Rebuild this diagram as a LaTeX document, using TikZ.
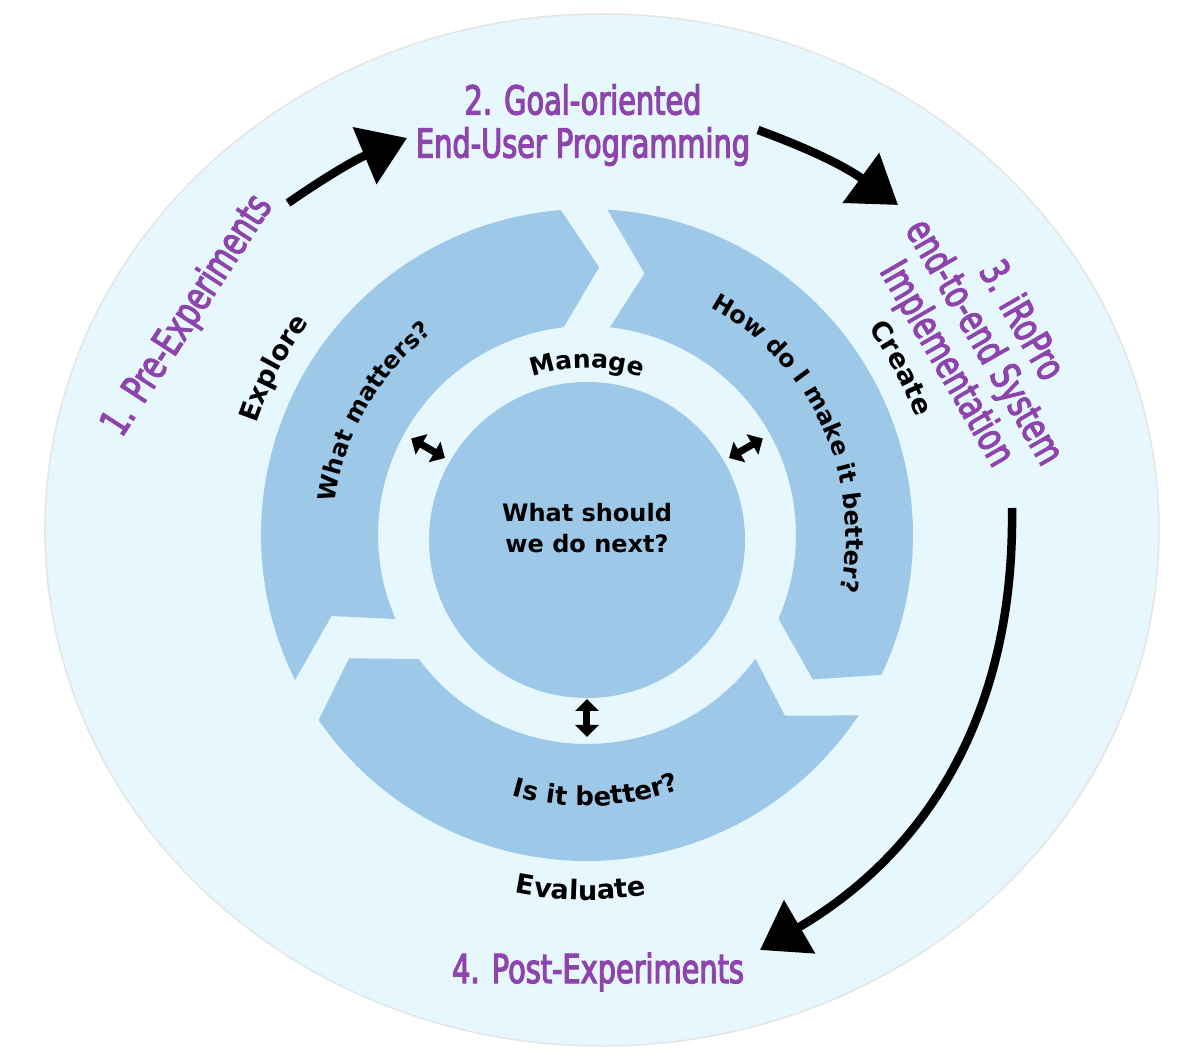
\documentclass[tikz,border=0pt]{standalone}
\usepackage{fontspec}
\usepackage{xcolor}
\usepackage{tikz}
\usetikzlibrary{arrows.meta,decorations.text}
\setmainfont{DejaVu Sans}
\newfontfamily\handfont[FakeStretch=0.72, FakeBold=3]{DejaVu Sans}
\definecolor{ringblue}{HTML}{9DC8E8}
\definecolor{paleblue}{HTML}{E6F7FE}
\definecolor{stagepurple}{HTML}{8E44AD}
\newcommand{\lblfont}{\bfseries\fontsize{24}{31}\selectfont}

\begin{document}
\begin{tikzpicture}[x=1pt, y=1pt,
    segment/.style={fill=ringblue},
    stage/.style={text=stagepurple, font=\handfont\fontsize{40}{43}\selectfont, align=center, inner sep=0pt},
    lbl/.style={font=\lblfont, align=center, inner sep=0pt},
    curved/.style 2 args={decorate, decoration={text along path, text align=center, text={|\bfseries\fontsize{#1}{#1}\selectfont|#2}}},
    sketch/.style={line width=8.5pt, -{Triangle[length=46pt, width=60pt]}},
    twoway/.style={line width=7pt, {Triangle[length=12pt, width=23pt]}-{Triangle[length=12pt, width=23pt]}}]
    \useasboundingbox[fill=white] (-587,-527) rectangle (607,535);
    \filldraw[fill=paleblue, draw=black!10, line width=1.5pt] (15,5) ellipse [x radius=557pt, y radius=516pt];

    % three arrow segments of the cycle
    \foreach \o in {0,-120,-240} {
        \fill[segment] ({206.4+\o}:326pt) arc[start angle={206.4+\o}, end angle={94.6+\o}, radius=326pt]
            -- ({87.4+\o}:268pt) -- ({96.4+\o}:209pt)
            arc[start angle={96.4+\o}, end angle={203.7+\o}, radius=209pt]
            -- ({197.6+\o}:268pt) -- cycle;
    }
    \node[circle, fill=ringblue, minimum size=316pt, inner sep=0pt] (core) at (0,-5) {};
    \node[lbl] (question) at (0,7) {What should\\we do next?};

    \draw[twoway] ([shift={(150:164pt)}]core.center) -- ([shift={(150:203pt)}]core.center);
    \draw[twoway] ([shift={(30:164pt)}]core.center) -- ([shift={(30:203pt)}]core.center);
    \draw[twoway] ([shift={(270:159pt)}]core.center) -- ([shift={(270:197pt)}]core.center);

    % curved labels
    \path[curved={25}{Manage}] (135:167pt) arc[start angle=135, end angle=45, radius=167pt];
    \path[curved={24}{What matters?}] (190:254pt) arc[start angle=190, end angle=110, radius=254pt];
    \path[curved={24}{How do I make it better?}] (75:259pt) arc[start angle=75, end angle=-26, radius=259pt];
    \path[curved={26}{Is it better?}] (232:271pt) arc[start angle=232, end angle=312, radius=271pt];
    \path[curved={27}{Explore}] (182:349pt) arc[start angle=182, end angle=122, radius=349pt];
    \path[curved={27}{Create}] (58:349pt) arc[start angle=58, end angle=-2, radius=349pt];
    \path[curved={27}{Evaluate}] (239:365pt) arc[start angle=239, end angle=299, radius=365pt];

    % stages
    \node[stage, rotate=57] (pre) at (-399,219) {1. Pre-Experiments};
    \node[stage] (goal) at (-4,410) {2. Goal-oriented\\End-User Programming};
    \node[stage, rotate=-60] (impl) at (396,192) {3. iRoPro\\end-to-end System\\Implementation};
    \node[stage] (post) at (11,-437) {4. Post-Experiments};

    \coordinate (preEnd) at (-299,332);
    \coordinate (goalStart) at (-180,397);
    \coordinate (goalEnd) at (171,405);
    \coordinate (implStart) at (311,330);
    \coordinate (implEnd) at (425,27);
    \coordinate (postStart) at (173,-415);

    \draw[sketch] (preEnd) to[bend left=6] (goalStart);
    \draw[sketch] (goalEnd) to[bend left=8] (implStart);
    \draw[sketch] (implEnd) .. controls (428,-190) and (330,-323) .. (postStart);
\end{tikzpicture}
\end{document}
